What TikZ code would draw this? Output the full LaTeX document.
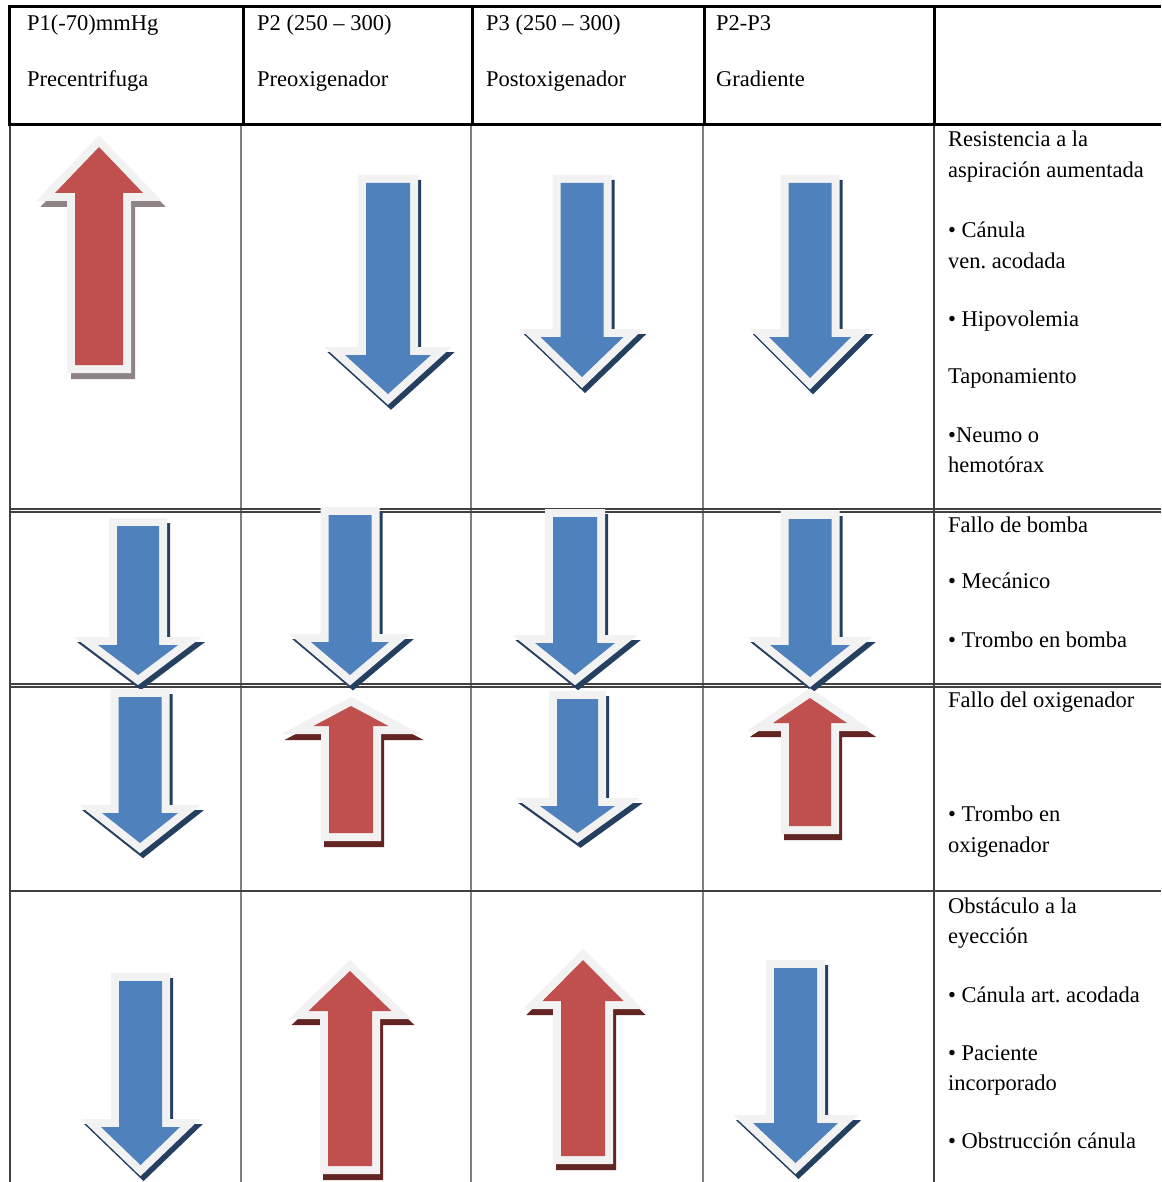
\documentclass[tikz,border=0pt]{standalone}
\usepackage{fontspec}
\setmainfont{Liberation Serif}
\frenchspacing
\definecolor{arrblue}{HTML}{4F81BD}
\definecolor{arrred}{HTML}{C0504D}
\definecolor{lightc}{HTML}{F2F2F2}
\definecolor{bshc}{HTML}{243F60}
\definecolor{rshc}{HTML}{632523}
\definecolor{gshc}{HTML}{8E8385}
\definecolor{gridc}{HTML}{7F7F7F}
\tikzset{
  txt/.style={anchor=base west, inner sep=0pt, font=\fontsize{22.5}{26}\selectfont},
  headline/.style={line width=3pt, black},
  bodyline/.style={line width=1.2pt, black!75},
  bodyvline/.style={line width=1.3pt, gridc},
  lightedge/.style={draw=lightc, fill=lightc, line width=16pt, line join=miter, miter limit=10},
  bshadow/.style={draw=bshc, fill=bshc, line width=16pt, line join=miter, miter limit=10, shift={(3,5)}},
  rshadow/.style={draw=rshc, fill=rshc, line width=16pt, line join=miter, miter limit=10, shift={(3,6)}},
  gshadow/.style={draw=gshc, fill=gshc, line width=16pt, line join=miter, miter limit=10, shift={(4,6)}},
}
% cx, tail y, head-base y, tip y, shaft half, head half, fill colour, shadow style
\newcommand{\arr}[8]{%
  \path[#8] ({#1-#5},#2) -- ({#1+#5},#2) -- ({#1+#5},#3) -- ({#1+#6},#3) -- (#1,#4) -- ({#1-#6},#3) -- ({#1-#5},#3) -- cycle;
  \path[lightedge] ({#1-#5},#2) -- ({#1+#5},#2) -- ({#1+#5},#3) -- ({#1+#6},#3) -- (#1,#4) -- ({#1-#6},#3) -- ({#1-#5},#3) -- cycle;
  \fill[#7] ({#1-#5},#2) -- ({#1+#5},#2) -- ({#1+#5},#3) -- ({#1+#6},#3) -- (#1,#4) -- ({#1-#6},#3) -- ({#1-#5},#3) -- cycle;
}
\begin{document}
\begin{tikzpicture}[x=1pt,y=-1pt]
\useasboundingbox (0,0) rectangle (1161,1182);
\fill[white] (0,0) rectangle (1161,1182);

% body grid
\draw[bodyline] (10,125) -- (10,1182);
\foreach \x in {241,471,703} \draw[bodyvline] (\x,125) -- (\x,1182);
\draw[bodyline] (934,125) -- (934,1182);
\draw[bodyline] (10,509) -- (1161,509);
\draw[bodyline] (10,512) -- (1161,512);
\draw[bodyline] (10,684) -- (1161,684);
\draw[bodyline] (10,687) -- (1161,687);
\draw[bodyline] (10,891) -- (1161,891);

% header grid
\draw[headline] (8,7) -- (1161,7);
\draw[headline] (8,125) -- (1161,125);
\foreach \x in {9,243,472,704,934} \draw[headline] (\x,7) -- (\x,125);

% header texts
\node[txt] (h1a) at (27,31) {P1(-70)mmHg};
\node[txt] (h1b) at (27,87) {Precentrifuga};
\node[txt] (h2a) at (257,31) {P2 (250 – 300)};
\node[txt] (h2b) at (257,87) {Preoxigenador};
\node[txt] (h3a) at (486,31) {P3 (250 – 300)};
\node[txt] (h3b) at (486,87) {Postoxigenador};
\node[txt] (h4a) at (716,31) {P2-P3};
\node[txt] (h4b) at (716,87) {Gradiente};

% right column texts
\node[txt] (r1a) at (948,147) {Resistencia a la};
\node[txt] (r1b) at (948,178) {aspiración aumentada};
\node[txt] (r1c) at (948,237) {• Cánula};
\node[txt] (r1d) at (948,268) {ven. acodada};
\node[txt] (r1e) at (948,326) {• Hipovolemia};
\node[txt] (r1f) at (948,383) {Taponamiento};
\node[txt] (r1g) at (948,442) {•Neumo o};
\node[txt] (r1h) at (948,472) {hemotórax};

\node[txt] (r2a) at (948,532) {Fallo de bomba};
\node[txt] (r2b) at (948,588) {• Mecánico};
\node[txt] (r2c) at (948,647) {• Trombo en bomba};

\node[txt] (r3a) at (948,707) {Fallo del oxigenador};
\node[txt] (r3b) at (948,821) {• Trombo en};
\node[txt] (r3c) at (948,852) {oxigenador};

\node[txt] (r4a) at (948,913) {Obstáculo a la};
\node[txt] (r4b) at (948,943) {eyección};
\node[txt] (r4c) at (948,1002) {• Cánula art. acodada};
\node[txt] (r4d) at (948,1060) {• Paciente};
\node[txt] (r4e) at (948,1090) {incorporado};
\node[txt] (r4f) at (948,1148) {• Obstrucción cánula};

% arrows row 1
\arr{99}{365}{193}{147}{24}{44}{arrred}{gshadow}
\arr{388}{183}{355}{394}{22}{43}{arrblue}{bshadow}
\arr{582}{183}{337}{377}{21.5}{41.5}{arrblue}{bshadow}
\arr{810}{183}{337}{378}{21.5}{41}{arrblue}{bshadow}
% row 2
\arr{138}{526}{645}{675}{21}{40}{arrblue}{bshadow}
\arr{350}{515}{642}{675}{21.5}{39}{arrblue}{bshadow}
\arr{575}{517}{643}{675}{22}{40}{arrblue}{bshadow}
\arr{810}{519}{645}{677}{21.5}{40}{arrblue}{bshadow}
% row 3
\arr{140}{697}{813}{843}{21.5}{38}{arrblue}{bshadow}
\arr{351}{833}{726}{706}{22}{37.5}{arrred}{rshadow}
\arr{577.5}{699}{806}{833}{20.5}{37.5}{arrblue}{bshadow}
\arr{810}{826}{723}{698}{21}{37}{arrred}{rshadow}
% row 4
\arr{140.5}{981}{1127}{1165}{21.5}{39.5}{arrblue}{bshadow}
\arr{350}{1166}{1011}{971}{22}{41.5}{arrred}{rshadow}
\arr{583}{1156}{1001}{960}{22}{40.5}{arrred}{rshadow}
\arr{795.5}{968}{1123}{1163}{21.5}{42.5}{arrblue}{bshadow}
\end{tikzpicture}
\end{document}
